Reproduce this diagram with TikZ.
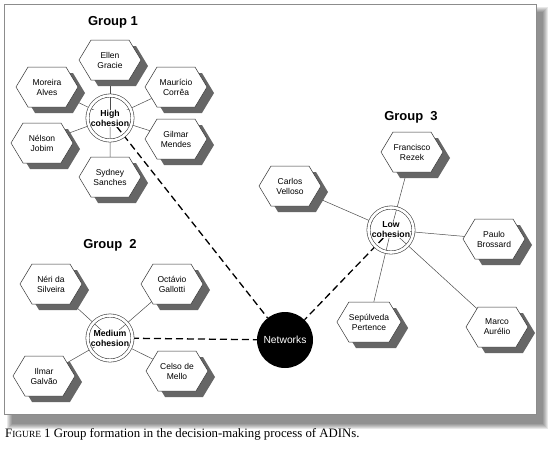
\documentclass[tikz,border=0pt]{standalone}
\usepackage{fontspec}
\setmainfont{Liberation Serif}
\newfontfamily\arial{Liberation Sans}
\usetikzlibrary{shapes.symbols,shadows}
\pgfdeclarelayer{back}
\pgfsetlayers{back,main}

\begin{document}
\begin{tikzpicture}[x=1pt,y=-1pt,
  judge/.style={signal, signal to=west and east, signal pointer angle=118,
    draw=black!80, line width=0.5pt, fill=white, minimum width=62pt, minimum height=40pt,
    inner sep=0pt, align=center, font=\arial\fontsize{8.5}{10}\selectfont,
    drop shadow={shadow xshift=7pt, shadow yshift=-6pt, fill=black!60, opacity=1}},
  hub/.style={fill=white, inner sep=0.3pt, align=center, font=\arial\bfseries\fontsize{8.7}{10}\selectfont},
  ring/.style={draw=black!75, line width=0.6pt, double, double distance=2.6pt},
  spoke/.style={draw=black!70, line width=0.5pt},
  link/.style={line width=1.3pt, dash pattern=on 7pt off 4pt},
  title/.style={font=\arial\bfseries\fontsize{13}{15}\selectfont}]
\useasboundingbox (0,0) rectangle (554,451);
%Group 1
\node[title] (g1) at (113,22) {Group 1};
\node[hub] (high) at (110,118) {High\\cohesion};
\draw[ring] (high.center) circle (22.5);
\node[judge] (ellen) at (110,60) {Ellen\\Gracie};
\node[judge] (moreira) at (47,87) {Moreira\\Alves};
\node[judge] (mauricio) at (176,87) {Maurício\\Corrêa};
\node[judge] (nelson) at (42,143) {Nélson\\Jobim};
\node[judge] (gilmar) at (176,139) {Gilmar\\Mendes};
\node[judge] (sydney) at (110,177) {Sydney\\Sanches};
%Group 2
\node[title] (g2) at (110,245) {Group~ 2};
\node[hub] (medium) at (110,338) {Medium\\cohesion};
\draw[ring] (medium.center) circle (22.5);
\node[judge] (neri) at (51,284) {Néri da\\Silveira};
\node[judge] (octavio) at (172,284) {Octávio\\Gallotti};
\node[judge] (ilmar) at (44,376) {Ilmar\\Galvão};
\node[judge] (celso) at (177,371) {Celso de\\Mello};
%Group 3
\node[title] (g3) at (411,117) {Group~ 3};
\node[hub] (low) at (391,230) {Low\\cohesion};
\draw[ring] (low.center) circle (22.5);
\node[judge] (francisco) at (412,152) {Francisco\\Rezek};
\node[judge] (carlos) at (290,186) {Carlos\\Velloso};
\node[judge] (paulo) at (494,239) {Paulo\\Brossard};
\node[judge] (sepulveda) at (369,322) {Sepúlveda\\Pertence};
\node[judge] (marco) at (497,327) {Marco\\Aurélio};
%Networks
\node[circle, fill=black, minimum size=56pt, inner sep=0pt, text=white,
  font=\arial\fontsize{10.3}{12}\selectfont] (net) at (285,340) {Networks};
%Caption
\node[anchor=west, inner sep=0pt, font=\fontsize{12.8}{14}\selectfont] (caption) at (5,434)
  {F{\fontsize{9.4}{11}\selectfont IGURE} 1 Group formation in the decision-making process of ADINs.};
\begin{pgfonlayer}{back}
%frame
\foreach \s in {0,...,5}
  \fill[black, opacity=0.09] (12-\s,12-\s) rectangle (543+\s,424+\s);
\draw[black!45, line width=1pt, fill=white] (4,4) rectangle (536,414);
%spokes
\foreach \j in {ellen,moreira,mauricio,nelson,gilmar,sydney}
  \draw[spoke] (high.center) -- (\j);
\foreach \j in {neri,octavio,ilmar,celso}
  \draw[spoke] (medium.center) -- (\j);
\foreach \j in {francisco,carlos,paulo,sepulveda,marco}
  \draw[spoke] (low.center) -- (\j);
%links
\draw[link] (high.center) -- (net);
\draw[link] (medium.center) -- (net);
\draw[link] (low.center) -- (net);
\end{pgfonlayer}
\end{tikzpicture}
\end{document}
